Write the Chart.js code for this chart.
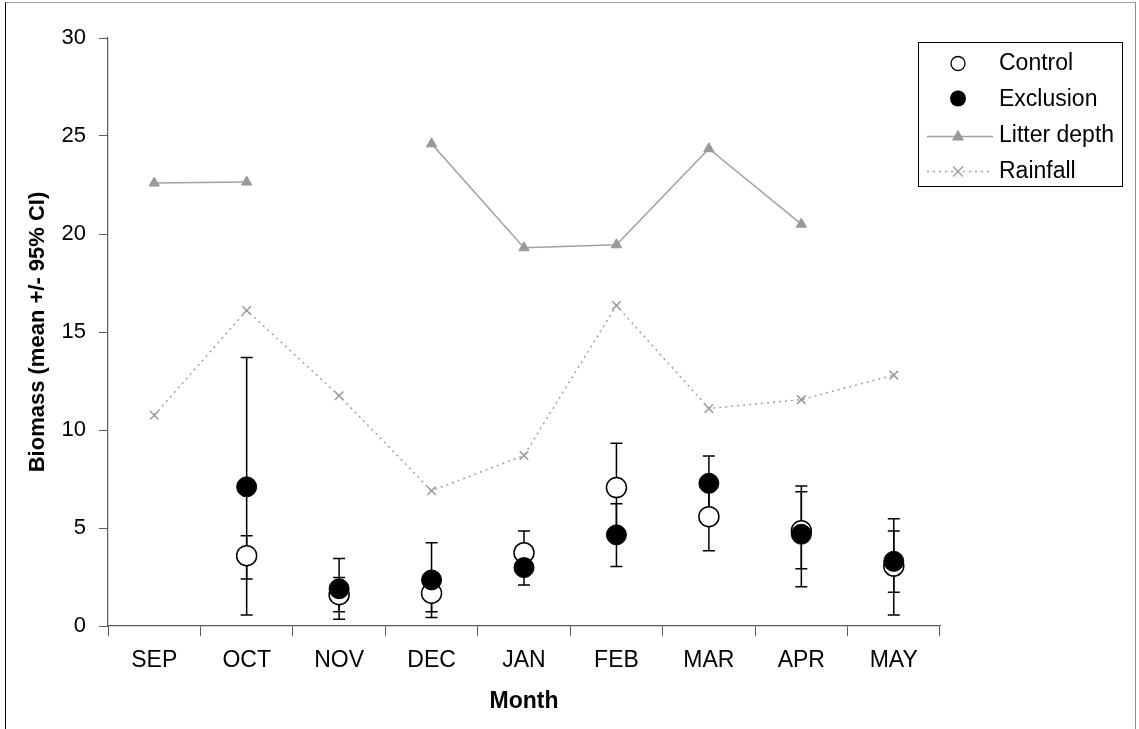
<!DOCTYPE html>
<html>
<head>
<meta charset="utf-8">
<script src="https://cdn.jsdelivr.net/npm/chart.js@4.4.1/dist/chart.umd.min.js"></script>
<style>
  html, body { margin: 0; padding: 0; background: #fff; overflow: hidden; }
  #wrap { position: relative; width: 1139px; height: 729px; }
  #frame { position: absolute; left: 5px; top: 2px; width: 1131px; height: 760px;
           border-left: 1.5px solid #000; border-top: 1px solid #a0a0a0; border-right: 1.5px solid #909090; box-sizing: border-box; pointer-events: none; }
  canvas { position: absolute; left: 0; top: 0; }
</style>
</head>
<body>
<div id="wrap">
  <canvas id="c" width="1139" height="729"></canvas>
  <div id="frame"></div>
</div>
<script>
const months = ['SEP','OCT','NOV','DEC','JAN','FEB','MAR','APR','MAY'];
const yTicks = [0, 5, 10, 15, 20, 25, 30];

const controlMean = [null, 3.59, 1.6, 1.67, 3.74, 7.06, 5.58, 4.86, 3.06];
const controlLow  = [null, 2.4, 0.73, 0.73, 2.63, 4.8, 3.84, 2.92, 0.56];
const controlHigh = [null, 4.6, 2.47, 2.6, 4.85, 9.32, 7.32, 6.85, 5.47];

const exclusionMean = [null, 7.1, 1.9, 2.35, 2.98, 4.65, 7.28, 4.68, 3.3];
const exclusionLow  = [null, 0.56, 0.35, 0.44, 2.09, 3.03, 5.89, 2.0, 1.72];
const exclusionHigh = [null, 13.7, 3.45, 4.25, 3.87, 6.24, 8.67, 7.14, 4.85];

const litterDepth = [22.6, 22.65, null, 24.6, 19.3, 19.45, 24.35, 20.5, null];
const rainfall = [10.75, 16.1, 11.75, 6.9, 8.7, 16.35, 11.1, 11.55, 12.8];

const FONT = '"Liberation Sans", Arial, Helvetica, sans-serif';
const GRAY = '#a0a0a0';
const AXIS = '#5a5a5a';

const errorBars = {
  id: 'errorBars',
  beforeDatasetsDraw(chart) {
    const ctx = chart.ctx;
    const x = chart.scales.x, y = chart.scales.y;
    const sets = [[controlLow, controlHigh], [exclusionLow, exclusionHigh]];
    ctx.save();
    ctx.strokeStyle = '#000';
    ctx.lineWidth = 1.5;
    sets.forEach(([lo, hi]) => {
      lo.forEach((l, i) => {
        const h = hi[i];
        if (l == null || h == null) return;
        const px = x.getPixelForValue(i);
        const py1 = y.getPixelForValue(l), py2 = y.getPixelForValue(h);
        ctx.beginPath();
        ctx.moveTo(px, py1); ctx.lineTo(px, py2);
        ctx.moveTo(px - 6, py1); ctx.lineTo(px + 6, py1);
        ctx.moveTo(px - 6, py2); ctx.lineTo(px + 6, py2);
        ctx.stroke();
      });
    });
    ctx.restore();
  }
};

const customLegend = {
  id: 'customLegend',
  afterDraw(chart) {
    const ctx = chart.ctx;
    ctx.save();
    ctx.strokeStyle = '#000';
    ctx.lineWidth = 1;
    ctx.strokeRect(918.5, 42.5, 204, 144);
    const mx = 958, tx = 999;
    const rows = [62.5, 98.5, 134.5, 170.5];
    const ds = chart.data.datasets;
    // Control
    ctx.beginPath(); ctx.arc(mx, rows[0] + 1, 7, 0, Math.PI * 2);
    ctx.fillStyle = ds[0].backgroundColor; ctx.fill();
    ctx.lineWidth = 1.3; ctx.strokeStyle = ds[0].borderColor; ctx.stroke();
    // Exclusion
    ctx.beginPath(); ctx.arc(mx, rows[1], 8, 0, Math.PI * 2);
    ctx.fillStyle = ds[1].backgroundColor; ctx.fill();
    // Litter
    ctx.strokeStyle = ds[2].borderColor; ctx.lineWidth = ds[2].borderWidth;
    ctx.beginPath(); ctx.moveTo(927, rows[2] + 2); ctx.lineTo(993, rows[2] + 2); ctx.stroke();
    ctx.fillStyle = ds[2].pointBackgroundColor;
    ctx.beginPath(); ctx.moveTo(mx, rows[2] - 5); ctx.lineTo(mx + 6, rows[2] + 6); ctx.lineTo(mx - 6, rows[2] + 6); ctx.closePath(); ctx.fill();
    // Rainfall
    ctx.strokeStyle = ds[3].borderColor; ctx.lineWidth = ds[3].borderWidth;
    ctx.setLineDash(ds[3].borderDash);
    ctx.beginPath(); ctx.moveTo(927, rows[3] + 1); ctx.lineTo(993, rows[3] + 1); ctx.stroke();
    ctx.setLineDash([]);
    ctx.lineWidth = 1.5;
    ctx.beginPath();
    ctx.moveTo(mx - 5, rows[3] - 4); ctx.lineTo(mx + 5, rows[3] + 6);
    ctx.moveTo(mx + 5, rows[3] - 4); ctx.lineTo(mx - 5, rows[3] + 6);
    ctx.stroke();
    // Text
    ctx.fillStyle = '#000';
    ctx.font = '23px ' + FONT;
    ctx.textBaseline = 'middle';
    ctx.textAlign = 'left';
    ds.forEach((d, i) => ctx.fillText(d.label, tx, rows[i] + 1));
    ctx.restore();
  }
};

new Chart(document.getElementById('c'), {
  type: 'line',
  data: {
    labels: months,
    datasets: [
      { label: 'Control', data: controlMean, showLine: false, order: 2,
        pointStyle: 'circle', pointRadius: 10, pointHoverRadius: 10,
        backgroundColor: '#ffffff', borderColor: '#000000', pointBorderWidth: 1.5, borderWidth: 1.5 },
      { label: 'Exclusion', data: exclusionMean, showLine: false, order: 1,
        pointStyle: 'circle', pointRadius: 10, pointHoverRadius: 10,
        backgroundColor: '#000000', borderColor: '#000000', pointBorderWidth: 1 },
      { label: 'Litter depth', data: litterDepth, order: 3, spanGaps: false,
        borderColor: GRAY, borderWidth: 1.5, pointStyle: 'triangle', pointRadius: 6,
        pointBackgroundColor: '#999999', pointBorderColor: '#999999', pointBorderWidth: 1, tension: 0 },
      { label: 'Rainfall', data: rainfall, order: 4,
        borderColor: GRAY, borderWidth: 1.5, borderDash: [2, 4], pointStyle: 'crossRot', pointRadius: 6,
        pointBorderColor: '#999999', pointBorderWidth: 1.5, tension: 0 }
    ]
  },
  options: {
    responsive: false,
    animation: false,
    events: [],
    layout: { padding: { left: 0, top: 38, right: 199, bottom: 0 } },
    plugins: { legend: { display: false }, tooltip: { enabled: false } },
    scales: {
      x: {
        type: 'category',
        offset: true,
        afterFit(s) { s.height = 103; },
        grid: { offset: true, drawOnChartArea: false, drawTicks: true, tickLength: 10, color: AXIS, lineWidth: 1 },
        border: { display: true, color: AXIS, width: 1.2 },
        ticks: { color: '#000', font: { family: FONT, size: 23 }, padding: 11, maxRotation: 0, autoSkip: false },
        title: { display: true, text: 'Month', color: '#000', font: { family: FONT, size: 23, weight: 'bold' }, padding: { top: 0, bottom: 14 } }
      },
      y: {
        min: 0, max: 30,
        afterFit(s) { s.width = 108; },
        afterBuildTicks(s) { s.ticks = yTicks.map(v => ({ value: v })); },
        grid: { drawOnChartArea: false, drawTicks: true, tickLength: 9, color: AXIS, lineWidth: 1 },
        border: { display: true, color: AXIS, width: 1.2 },
        ticks: { color: '#000', font: { family: FONT, size: 22 }, padding: 13 },
        title: { display: true, text: 'Biomass (mean +/- 95% CI)', color: '#000', font: { family: FONT, size: 22, weight: 'bold' }, padding: { top: 25, bottom: 0 } }
      }
    }
  },
  plugins: [errorBars, customLegend]
});
</script>
</body>
</html>
